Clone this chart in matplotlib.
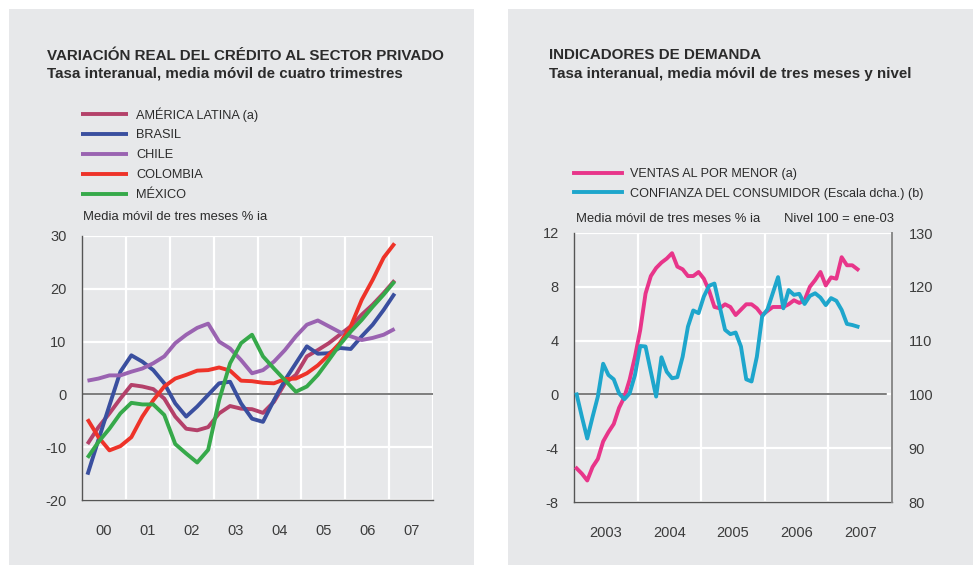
import matplotlib
matplotlib.use("Agg")
import matplotlib.pyplot as plt
from matplotlib.patches import Rectangle
import numpy as np

plt.rcParams['font.family'] = ['Liberation Sans', 'DejaVu Sans']
plt.rcParams['axes.unicode_minus'] = False

# --- left chart data: quarterly, 2000Q1 .. 2007Q1 ---
quarters = 2000 + 0.125 + 0.25 * np.arange(29)
america_latina = [-9.4, -6.2, -3.6, -0.8, 1.8, 1.5, 1.0, -0.8, -4.2, -6.5, -6.8, -6.2, -3.6, -2.2,
                  -2.7, -2.8, -3.5, -1.4, 2.1, 3.7, 7.2, 8.4, 9.7, 11.3, 12.9, 15.1, 17.0, 19.2, 21.6]
brasil = [-15.2, -8.6, -2.1, 4.3, 7.4, 6.2, 4.6, 2.1, -1.7, -4.2, -2.3, -0.1, 2.1, 2.4,
          -1.7, -4.6, -5.2, -1.1, 2.7, 5.9, 9.1, 7.7, 7.8, 8.8, 8.6, 11.0, 13.2, 16.0, 19.1]
chile = [2.6, 3.0, 3.6, 3.6, 4.3, 4.9, 5.9, 7.2, 9.7, 11.3, 12.6, 13.4, 10.0, 8.7,
         6.5, 4.0, 4.6, 6.2, 8.4, 11.0, 13.2, 14.0, 12.9, 11.8, 11.0, 10.3, 10.7, 11.3, 12.4]
colombia = [-4.7, -8.1, -10.6, -9.8, -8.1, -4.2, -1.1, 1.5, 3.0, 3.7, 4.5, 4.6, 5.1, 4.5,
            2.6, 2.5, 2.2, 2.1, 2.9, 3.0, 4.0, 5.5, 7.5, 9.7, 12.9, 17.9, 21.7, 25.9, 28.6]
mexico = [-12.0, -9.0, -6.5, -3.6, -1.6, -1.9, -1.9, -3.9, -9.4, -11.2, -12.9, -10.5, -1.1, 5.9,
          9.7, 11.3, 7.2, 4.9, 2.7, 0.5, 1.5, 3.7, 6.5, 9.4, 11.9, 14.1, 16.6, 18.9, 21.4]
left_labels = ['AMÉRICA LATINA (a)', 'BRASIL', 'CHILE', 'COLOMBIA', 'MÉXICO']
left_colors = ['#b4416a', '#3a4f9f', '#9a63b1', '#ee3329', '#36a94a']
left_years = ['00', '01', '02', '03', '04', '05', '06', '07']

# --- right chart data: monthly, ene-2003 .. jun-2007 ---
months = 2003 + (np.arange(54) + 0.5) / 12
ventas = [-5.5, -5.9, -6.4, -5.4, -4.8, -3.5, -2.8, -2.2, -1.0, -0.2, 1.1, 2.8,
          4.8, 7.5, 8.8, 9.4, 9.8, 10.1, 10.5, 9.5, 9.3, 8.8, 8.8, 9.1,
          8.6, 7.7, 6.5, 6.4, 6.7, 6.5, 5.9, 6.3, 6.7, 6.7, 6.4, 5.9,
          6.2, 6.5, 6.5, 6.5, 6.7, 7.0, 6.8, 7.0, 8.0, 8.5, 9.1, 8.1,
          8.7, 8.6, 10.2, 9.6, 9.6, 9.3]
confianza = [100.0, 95.8, 91.8, 95.8, 99.6, 105.7, 103.6, 102.8, 100.2, 99.1, 100.2, 103.6,
             109.0, 108.9, 104.2, 99.6, 106.9, 104.2, 103.0, 103.2, 107.0, 112.6, 115.6, 115.1,
             118.2, 120.2, 120.6, 116.3, 112.0, 111.2, 111.5, 108.9, 102.8, 102.4, 107.0, 114.5,
             115.8, 118.8, 121.8, 116.0, 119.4, 118.5, 118.7, 116.8, 118.3, 118.8, 118.0, 116.6,
             117.9, 117.4, 115.7, 113.1, 112.9, 112.6]
right_labels = ['VENTAS AL POR MENOR (a)', 'CONFIANZA DEL CONSUMIDOR (Escala dcha.) (b)']
right_colors = ['#e8358a', '#1ea6cc']
right_years = ['2003', '2004', '2005', '2006', '2007']

W, H = 973, 565
fig = plt.figure(figsize=(W / 100, H / 100), dpi=100)
fig.patch.set_facecolor('white')

def fx(px):
    return px / W

def fy(py):
    return 1 - py / H

panel = '#e7e8ea'
txt = '#2b2b2b'
tick_c = '#3c3c3c'
fig.patches.append(Rectangle((fx(9), 0), fx(474 - 9), fy(9), transform=fig.transFigure,
                             facecolor=panel, edgecolor='none', zorder=-10))
fig.patches.append(Rectangle((fx(508), 0), fx(973 - 508), fy(9), transform=fig.transFigure,
                             facecolor=panel, edgecolor='none', zorder=-10))

def style_axes(ax, start, nyears, labels):
    ax.set_facecolor(panel)
    ax.set_xlim(start, start + nyears)
    ax.set_xticks(np.arange(start, start + nyears + 1))
    ax.set_xticklabels([])
    ax.set_xticks(np.arange(start, start + len(labels)) + 0.5, minor=True)
    ax.set_xticklabels(labels, minor=True)
    ax.tick_params(axis='x', which='both', length=0, pad=17, labelsize=10.5, labelcolor=tick_c)
    ax.tick_params(axis='y', length=0, pad=11, labelsize=10.5, labelcolor=tick_c)
    ax.grid(True, which='major', color='white', lw=1.6)
    ax.set_axisbelow(True)
    for s in ['top', 'right']:
        ax.spines[s].set_visible(False)
    for s in ['left', 'bottom']:
        ax.spines[s].set_color('#555555')
        ax.spines[s].set_linewidth(1.0)

# ---------------- left chart ----------------
ax1 = fig.add_axes([fx(82), fy(500), fx(433 - 82), fy(236) - fy(500)])
style_axes(ax1, 2000, 8, left_years)
ax1.set_ylim(-20, 30)
ax1.set_yticks(np.arange(-20, 31, 10))
ax1.axhline(0, color='#5a5a5a', lw=1.1, zorder=1)
for series, lab, col in zip([america_latina, brasil, chile, colombia, mexico], left_labels, left_colors):
    ax1.plot(quarters, series, color=col, lw=2.8, label=lab, solid_capstyle='butt', zorder=3)
ax1.legend(loc='upper left', bbox_to_anchor=(fx(81), fy(107)), bbox_transform=fig.transFigure,
           frameon=False, fontsize=9.2, handlelength=3.7, handletextpad=0.6, borderpad=0,
           borderaxespad=0, labelspacing=0.62, labelcolor=txt)

fig.text(fx(47), fy(56), 'VARIACIÓN REAL DEL CRÉDITO AL SECTOR PRIVADO', fontsize=10.9,
         fontweight='bold', color=txt, va='center')
fig.text(fx(47), fy(74), 'Tasa interanual, media móvil de cuatro trimestres', fontsize=10.9,
         fontweight='bold', color=txt, va='center')
fig.text(fx(83), fy(217), 'Media móvil de tres meses % ia', fontsize=9.35, color=txt, va='center')

# ---------------- right chart ----------------
ax2 = fig.add_axes([fx(574), fy(502), fx(892 - 574), fy(233) - fy(502)])
style_axes(ax2, 2003, 5, right_years)
ax2.set_ylim(-8, 12)
ax2.set_yticks(np.arange(-8, 13, 4))
ax2.axhline(0, xmin=0, xmax=0.98, color='#5a5a5a', lw=1.1, zorder=1)
l1, = ax2.plot(months, ventas, color=right_colors[0], lw=2.8, label=right_labels[0], zorder=3)

ax3 = ax2.twinx()
ax3.set_ylim(80, 130)
ax3.set_yticks(np.arange(80, 131, 10))
ax3.tick_params(axis='y', length=0, pad=12, labelsize=10.5, labelcolor=tick_c)
for s in ['top', 'left', 'bottom']:
    ax3.spines[s].set_visible(False)
ax3.spines['right'].set_color('#8a8a8a')
ax3.spines['right'].set_linewidth(1.4)
l2, = ax3.plot(months, confianza, color=right_colors[1], lw=2.8, label=right_labels[1], zorder=3)

ax3.legend(handles=[l1, l2], loc='upper left', bbox_to_anchor=(fx(574), fy(168)),
           bbox_transform=fig.transFigure, frameon=False, fontsize=9.1, handlelength=3.8,
           handletextpad=0.6, borderpad=0, borderaxespad=0, labelspacing=0.6, labelcolor=txt)

fig.text(fx(549), fy(55), 'INDICADORES DE DEMANDA', fontsize=10.9, fontweight='bold',
         color=txt, va='center')
fig.text(fx(549), fy(74), 'Tasa interanual, media móvil de tres meses y nivel', fontsize=10.9,
         fontweight='bold', color=txt, va='center')
fig.text(fx(576), fy(219), 'Media móvil de tres meses % ia', fontsize=9.35, color=txt, va='center')
fig.text(fx(784), fy(219), 'Nivel 100 = ene-03', fontsize=9.35, color=txt, va='center')

fig.savefig('out.png', dpi=100, facecolor=fig.get_facecolor())
